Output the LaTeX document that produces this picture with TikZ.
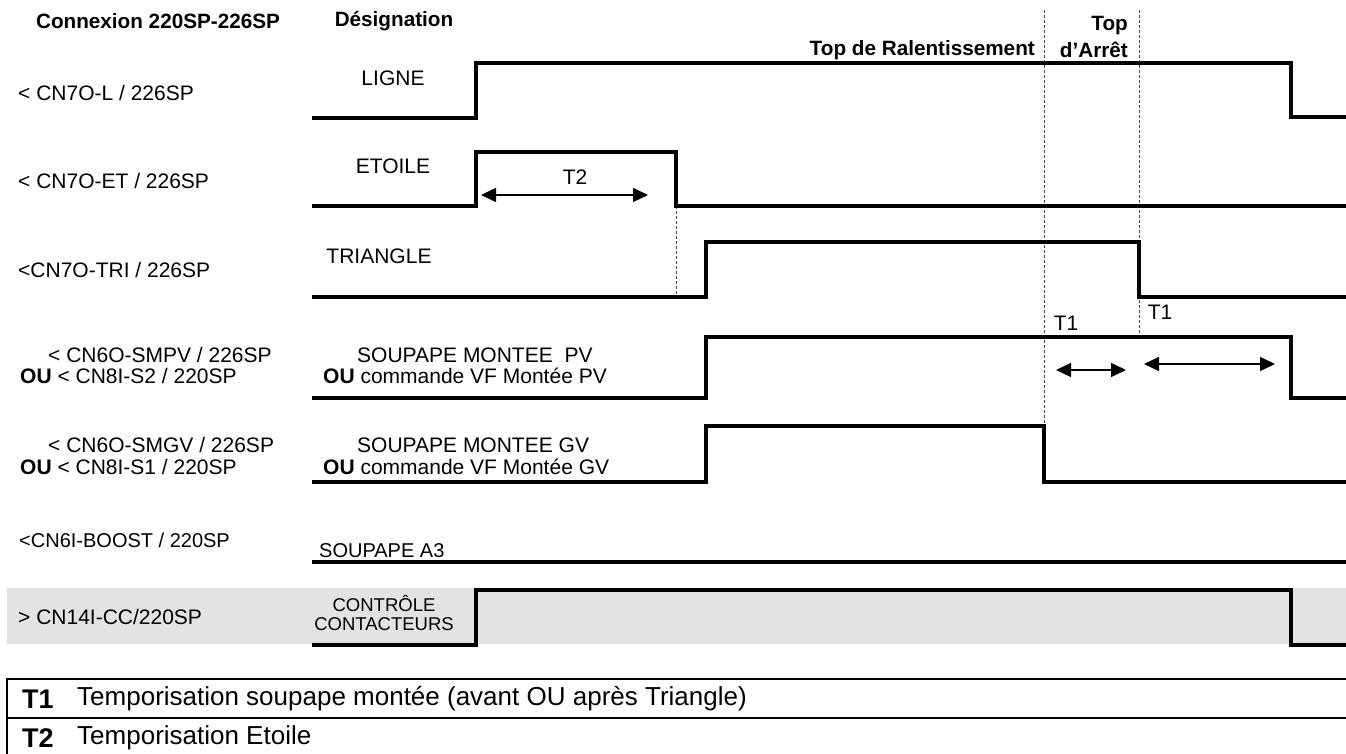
\documentclass[tikz,border=0pt]{standalone}
\usepackage{fontspec}
\setmainfont{Liberation Sans}
\usetikzlibrary{arrows.meta}
\begin{document}
\begin{tikzpicture}[x=1pt,y=-1pt,
  sig/.style={line width=3.5pt, line join=miter},
  guide/.style={line width=0.9pt, black!70, dash pattern=on 3pt off 2pt},
  dimarrow/.style={{Triangle[length=15pt,width=14pt]}-{Triangle[length=15pt,width=14pt]}, line width=1.4pt},
  lbl/.style={font=\fontsize{21}{25}\selectfont, inner sep=0pt},
  hdr/.style={font=\bfseries\fontsize{20.7}{25}\selectfont, inner sep=0pt},
  mid/.style={font=\fontsize{20}{24}\selectfont, inner sep=0pt},
  small/.style={font=\fontsize{18.5}{19.5}\selectfont, inner sep=0pt, align=center},
  legend/.style={line width=2.2pt},
  legtext/.style={font=\fontsize{26}{30}\selectfont, inner sep=0pt},
  legkey/.style={font=\bfseries\fontsize{27}{30}\selectfont, inner sep=0pt}]
\useasboundingbox (0,0) rectangle (1346,754);
% grey band
\fill[black!11] (7,588) rectangle (1346,644);
% guide lines
\draw[guide] (1044,10) -- (1044,426);
\draw[guide] (1139,10) -- (1139,337);
\draw[guide] (676,206) -- (676,297);
% headers
\node[hdr] (hconn) at (158,21) {Connexion 220SP-226SP};
\node[hdr] (hdes) at (394,21) {Désignation};
\node[hdr, anchor=east] (hral) at (1035,50) {Top de Ralentissement};
\node[hdr, anchor=east] (htop) at (1128,26) {Top};
\node[hdr, anchor=east] (harr) at (1128,50) {d’Arrêt};
% left column
\node[lbl, anchor=west] (c1) at (18,93) {< CN7O-L / 226SP};
\node[lbl, anchor=west] (c2) at (18,181) {< CN7O-ET / 226SP};
\node[lbl, anchor=west] (c3) at (18,270) {<CN7O-TRI / 226SP};
\node[lbl, anchor=west] (c4a) at (48,355) {< CN6O-SMPV / 226SP};
\node[lbl, anchor=west] (c4b) at (20,376) {\textbf{OU} < CN8I-S2 / 220SP};
\node[lbl, anchor=west] (c5a) at (48,445) {< CN6O-SMGV / 226SP};
\node[lbl, anchor=west] (c5b) at (20,467) {\textbf{OU} < CN8I-S1 / 220SP};
\node[mid, anchor=west] (c6) at (19,540) {<CN6I-BOOST / 220SP};
\node[lbl, anchor=west] (c7) at (18,617) {> CN14I-CC/220SP};
% designations
\node[lbl] (d1) at (393,78) {LIGNE};
\node[lbl] (d2) at (393,166) {ETOILE};
\node[lbl] (d3) at (379,256) {TRIANGLE};
\node[lbl, anchor=west] (d4a) at (357,355) {SOUPAPE MONTEE\ \ PV};
\node[lbl, anchor=west] (d4b) at (323,376) {\textbf{OU} commande VF Montée PV};
\node[lbl, anchor=west] (d5a) at (357,445) {SOUPAPE MONTEE GV};
\node[lbl, anchor=west] (d5b) at (323,467) {\textbf{OU} commande VF Montée GV};
\node[mid, anchor=west] (d6) at (319,551) {SOUPAPE A3};
\node[small] (d7) at (384,613) {CONTRÔLE\\CONTACTEURS};
% signals
\draw[sig] (312,118) -- (476,118) -- (476,63) -- (1291,63) -- (1291,117) -- (1346,117);
\draw[sig] (312,206) -- (476,206) -- (476,152) -- (676,152) -- (676,206) -- (1346,206);
\draw[sig] (312,297) -- (706,297) -- (706,242) -- (1139,242) -- (1139,297) -- (1346,297);
\draw[sig] (312,398) -- (706,398) -- (706,337) -- (1291,337) -- (1291,398) -- (1346,398);
\draw[sig] (312,482) -- (706,482) -- (706,426) -- (1044,426) -- (1044,482) -- (1346,482);
\draw[sig] (312,562) -- (1346,562);
\draw[sig] (312,645) -- (476,645) -- (476,590) -- (1291,590) -- (1291,645) -- (1346,645);
% timing arrows
\coordinate (t2a) at (481,195); \coordinate (t2b) at (648,195);
\draw[dimarrow] (t2a) -- (t2b);
\node[lbl] (t2) at (575,177) {T2};
\coordinate (t1a) at (1056,370); \coordinate (t1b) at (1126,370);
\draw[dimarrow] (t1a) -- (t1b);
\node[lbl] (t1l) at (1066,323) {T1};
\coordinate (t1c) at (1144,364); \coordinate (t1d) at (1275,364);
\draw[dimarrow] (t1c) -- (t1d);
\node[lbl] (t1r) at (1160,312) {T1};
% legend table
\draw[legend] (1346,679) -- (7,679) -- (7,754);
\draw[legend] (7,718) -- (1346,718);
\node[legkey, anchor=west] (k1) at (22,699) {T1};
\node[legtext, anchor=west] (k1t) at (77,699) {Temporisation soupape montée (avant OU après Triangle)};
\node[legkey, anchor=west] (k2) at (22,738) {T2};
\node[legtext, anchor=west] (k2t) at (77,738) {Temporisation Etoile};
\end{tikzpicture}
\end{document}
